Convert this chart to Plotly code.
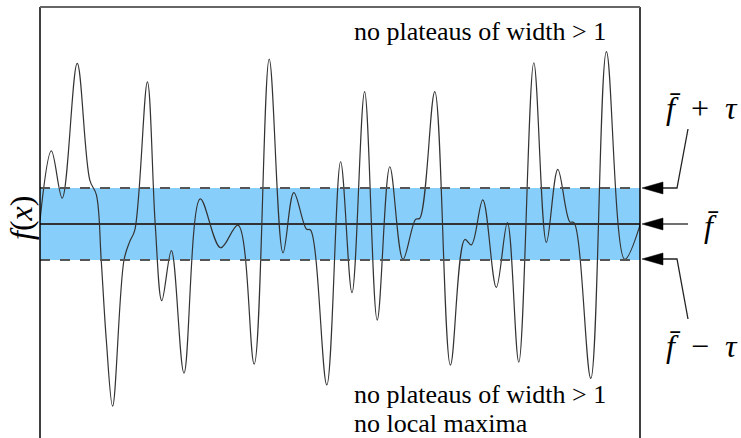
import plotly.graph_objects as go

# curve values (f-bar = 0, tau = 1)
x_vals = [0.0, 1.9, 3.7, 6.2, 8.3, 9.4, 10.2, 11.05, 12.1, 14.0, 14.95, 15.8, 17.9, 19.2,
          20.3, 21.9, 24.0, 26.7, 30.1, 33.0, 35.7, 38.2, 40.5, 42.3, 44.4, 45.1, 47.8,
          50.1, 52.0, 54.1, 56.2, 58.3, 60.5, 62.6, 63.3, 65.8, 68.4, 70.8, 71.9, 73.8,
          76.05, 77.9, 79.8, 82.3, 84.4, 86.3, 88.3, 89.0, 91.8, 94.4, 97.45, 100.0]
y_vals = [0.1, 2.03, 0.72, 4.46, 1.22, 0.81, -1.0, -3.22, -5.06, -1.0, -0.49, -0.17, 3.95, 0.0,
          -2.13, -0.74, -4.14, 0.70, -0.66, -0.03, -3.89, 4.58, -0.80, 0.87, -0.14, -0.17, -4.47,
          1.73, -1.91, 3.68, -2.67, 1.59, -0.98, 0.13, 0.16, 3.68, -3.92, -0.43, -0.58, 0.67,
          -1.76, 0.04, -3.84, 4.48, -0.51, 1.52, 0.06, 0.04, -4.29, 4.79, -0.98, -0.03]

f_bar = 0.0
tau = 1.0
x_range = [0, 100]
y_range = [-5.944, 6.028]

top_text = "no plateaus of width > 1"
bottom_lines = ["no plateaus of width > 1", "no local maxima"]
label_plus = "<i>f\u0304</i>\u2002+\u2002<i>\u03c4</i>"
label_mid = "<i>f\u0304</i>"
label_minus = "<i>f\u0304</i>\u2002\u2212\u2002<i>\u03c4</i>"
y_label = "<i>f</i>(<i>x</i>)"

W, H = 741, 438
L, R, T, B = 40, 101, 7, 0
PW, PH = W - L - R, H - T - B


def px(x):
    return (x - L) / PW


def py(y):
    return (H - B - y) / PH


SERIF = "Liberation Serif"

fig = go.Figure()
fig.add_trace(go.Scatter(x=x_vals, y=y_vals, mode="lines",
                         line=dict(color="#333333", width=1.2, shape="spline", smoothing=1.0),
                         hoverinfo="skip", showlegend=False))

shapes = []
# band
shapes.append(dict(type="rect", xref="x", yref="y", x0=x_range[0], x1=x_range[1],
                   y0=f_bar - tau, y1=f_bar + tau, fillcolor="#87CEFA",
                   line=dict(width=0), layer="below"))
for yy in (f_bar - tau, f_bar + tau):
    shapes.append(dict(type="line", xref="x", yref="y", x0=x_range[0], x1=x_range[1],
                       y0=yy, y1=yy, line=dict(color="#555555", width=2, dash="10px,10px"),
                       layer="above"))
shapes.append(dict(type="line", xref="x", yref="y", x0=x_range[0], x1=x_range[1],
                   y0=f_bar, y1=f_bar, line=dict(color="#333333", width=2), layer="below"))
# frame
shapes.append(dict(type="line", xref="paper", yref="paper", x0=0, x1=0, y0=-0.01, y1=1,
                   line=dict(color="black", width=1.5)))
shapes.append(dict(type="line", xref="paper", yref="paper", x0=1, x1=1, y0=-0.01, y1=1,
                   line=dict(color="black", width=1.5)))
shapes.append(dict(type="line", xref="paper", yref="paper", x0=0, x1=1, y0=1, y1=1,
                   line=dict(color="#666666", width=2)))


def pline(points):
    d = "M " + " L ".join(f"{px(a):.5f},{py(b):.5f}" for a, b in points)
    return dict(type="path", xref="paper", yref="paper", path=d,
                line=dict(color="#222222", width=1.3))


def phead(yc):
    d = (f"M {px(642):.5f},{py(yc):.5f} L {px(663):.5f},{py(yc - 6):.5f} "
         f"L {px(663):.5f},{py(yc + 6):.5f} Z")
    return dict(type="path", xref="paper", yref="paper", path=d,
                fillcolor="black", line=dict(color="black", width=0.5))


shapes.append(pline([(688, 129), (677, 188), (662, 188)]))
shapes.append(pline([(688, 224), (662, 224)]))
shapes.append(pline([(688, 319), (677, 259), (662, 259)]))
for yc in (188, 224, 259):
    shapes.append(phead(yc))

TXT = dict(family=SERIF, size=26, color="black")
MATH = dict(family=SERIF, size=32, color="black")
annotations = [
    dict(xref="paper", yref="paper", x=px(352), y=py(31), xanchor="left", yanchor="middle",
         text=top_text, showarrow=False, font=TXT),
    dict(xref="paper", yref="paper", x=px(352), y=py(394), xanchor="left", yanchor="middle",
         text=bottom_lines[0], showarrow=False, font=TXT),
    dict(xref="paper", yref="paper", x=px(352), y=py(423), xanchor="left", yanchor="middle",
         text=bottom_lines[1], showarrow=False, font=TXT),
    dict(xref="paper", yref="paper", x=px(21), y=py(218), xanchor="center", yanchor="middle",
         text=y_label, textangle=-90, showarrow=False,
         font=dict(family=SERIF, size=32, color="black")),
    dict(xref="paper", yref="paper", x=px(702), y=py(108), xanchor="center", yanchor="middle",
         text=label_plus, showarrow=False, font=MATH),
    dict(xref="paper", yref="paper", x=px(711), y=py(226), xanchor="center", yanchor="middle",
         text=label_mid, showarrow=False, font=MATH),
    dict(xref="paper", yref="paper", x=px(702), y=py(346), xanchor="center", yanchor="middle",
         text=label_minus, showarrow=False, font=MATH),
]

fig.update_layout(
    width=W, height=H, margin=dict(l=L, r=R, t=T, b=B, pad=0),
    paper_bgcolor="white", plot_bgcolor="white",
    xaxis=dict(range=x_range, visible=False, fixedrange=True),
    yaxis=dict(range=y_range, visible=False, fixedrange=True),
    shapes=shapes, annotations=annotations, showlegend=False,
)

fig.write_html("out.html", config=dict(displayModeBar=False),
               post_script="document.body.style.margin='0';document.body.style.padding='0';")
